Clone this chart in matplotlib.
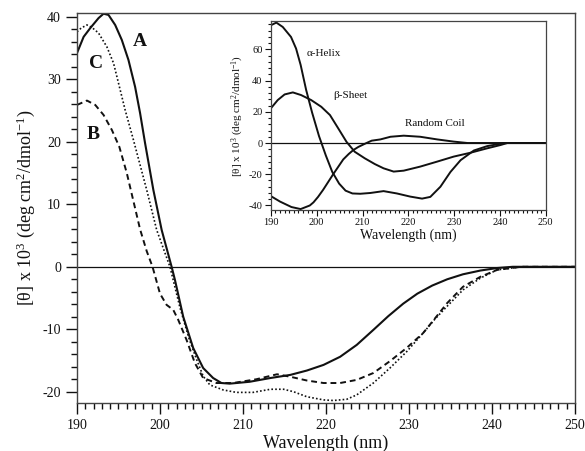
import matplotlib.pyplot as plt
from matplotlib.ticker import MultipleLocator

plt.rcParams['font.family'] = ['Liberation Serif', 'DejaVu Serif']
plt.rcParams['mathtext.fontset'] = 'custom'
plt.rcParams['mathtext.rm'] = 'Liberation Serif'
plt.rcParams['mathtext.it'] = 'Liberation Serif:italic'
plt.rcParams['axes.unicode_minus'] = False

# main panel: curves A (solid), B (dashed), C (dotted)
a_nm = [190, 190.8, 191.6, 192.6, 193.2, 193.8, 194.6, 195.4, 196.2, 197, 197.6, 198.2, 199.2,
        200.2, 201.4, 201.8, 202.8, 204, 205.2, 206.4, 207.4, 208.4, 210.8, 213.3, 215.7,
        217.7, 219.7, 221.7, 223.7, 225.7, 227.5, 229.3, 231, 232.8, 234.6, 236.5, 238.6,
        240.6, 242.5, 250]
a_val = [34.2, 36.8, 38.2, 39.8, 40.5, 40.3, 38.7, 36.3, 33.1, 28.8, 24.6, 19.8, 12.3,
         5.9, 0.0, -2.1, -8.0, -13.0, -16.2, -17.8, -18.6, -18.7, -18.4, -17.8, -17.3,
         -16.6, -15.7, -14.4, -12.5, -10.1, -7.9, -5.9, -4.3, -3.0, -2.0, -1.2, -0.6,
         -0.2, 0.0, 0.0]

b_nm = [190, 191.2, 192.2, 193.2, 194.2, 195.1, 196, 196.8, 197.6, 198.4, 199.1, 200, 200.8,
        201.6, 202.2, 203.2, 204.2, 205.2, 206.8, 208.8, 211.6, 214.1, 215.7, 217.7, 219.7,
        221.7, 223.7, 225.7, 227.7, 229.7, 231.7, 233.1, 234.6, 236.5, 238.6, 240.6, 243.5, 250]
b_val = [25.9, 26.6, 25.9, 24.3, 21.9, 19.2, 15.0, 10.5, 6.0, 2.5, 0.0, -4.3, -6.1,
         -6.9, -8.5, -11.7, -15.4, -17.8, -18.6, -18.6, -18.0, -17.2, -17.6, -18.2, -18.6,
         -18.6, -18.1, -17.0, -15.1, -13.0, -10.6, -8.3, -5.8, -3.2, -1.6, -0.5, 0.0, 0.0]

c_nm = [190, 190.5, 191.2, 191.8, 192.6, 193.6, 194.4, 195, 195.8, 196.8, 198.4, 199.6, 201.2,
        202.4, 203.5, 204.4, 205.2, 206, 207.6, 209.2, 211.2, 213.3, 214.9, 216.1, 217.7,
        219.7, 220.9, 222.5, 223.7, 225.7, 227.7, 229.7, 231.7, 233.1, 234.6, 236.5, 238.6,
        240.6, 243.5, 250]
c_val = [37.6, 38.2, 38.7, 38.3, 37.4, 35.2, 32.6, 29.4, 25.1, 20.3, 12.3, 5.9, 0.0,
         -6.5, -11.5, -14.8, -17.5, -18.9, -19.7, -20.1, -20.1, -19.6, -19.6, -20.0, -20.8,
         -21.3, -21.4, -21.2, -20.5, -18.6, -16.2, -13.6, -10.6, -8.4, -6.3, -3.7, -1.8,
         -0.5, 0.0, 0.0]

# inset: reference spectra
helix_nm = [190, 191.2, 192.6, 194.4, 195.5, 196.5, 197.7, 199, 200.5, 202, 203.4, 204.9,
            206.3, 207.8, 209.5, 211.7, 214.6, 217.5, 220.4, 223, 224.8, 227, 229.2, 231.4,
            234.3, 237.2, 240.9, 250]
helix_val = [75.4, 77.1, 74.3, 67.9, 60.5, 50, 34, 19.5, 4.5, -8, -18.5, -26,
             -30.5, -32.3, -32.5, -32, -30.8, -32.3, -34.3, -35.6, -34.5, -28, -18.5, -11,
             -4.8, -2, 0, 0]

sheet_nm = [190, 191.5, 193, 194.8, 196.6, 198.8, 201, 202.9, 204.7, 206.5, 208.3, 210.5,
            212.7, 214.6, 216.8, 219, 222.6, 226.3, 229.9, 233.6, 237.2, 240.1, 241.6, 250]
sheet_val = [22.2, 27.5, 31.1, 32.4, 30.7, 27.5, 23.2, 17.9, 9.4, 0.8, -5.6, -9.8,
             -13.5, -16.2, -18.3, -17.7, -15.1, -11.9, -8.7, -6.2, -3.4, -1.3, 0, 0]

coil_nm = [190, 192, 194.5, 196.5, 198.5, 199.3, 200.3, 201.4, 203.6, 205.8, 207, 208,
           209.1, 210.5, 212, 213.9, 216.1, 219, 222.6, 226.3, 229.9, 232.9, 250]
coil_val = [-34, -37.5, -41, -42.3, -40, -38, -34.5, -30, -20, -10.5, -7, -4.5,
            -2.5, -0.5, 1.5, 2.3, 4.0, 4.7, 4.0, 2.3, 0.9, 0, 0]

ink = '#111111'
ylab = '[θ] x 10$^3$ (deg cm$^2$/dmol$^{-1}$)'

fig = plt.figure(figsize=(5.85, 4.51), dpi=100)
ax = fig.add_axes([0.1316, 0.1064, 0.8514, 0.8646])

ax.axhline(0, color=ink, lw=0.9)
ax.plot(a_nm, a_val, color=ink, lw=1.5)
ax.plot(b_nm, b_val, color=ink, lw=1.4, linestyle=(0, (3, 2)))
ax.plot(c_nm, c_val, color=ink, lw=1.2, linestyle=(0, (1, 1.3)))

ax.text(197.6, 36, 'A', fontsize=14, fontweight='bold', ha='center', va='center', color=ink)
ax.text(192.3, 32.6, 'C', fontsize=14, fontweight='bold', ha='center', va='center', color=ink)
ax.text(192.0, 21.1, 'B', fontsize=14, fontweight='bold', ha='center', va='center', color=ink)

ax.set_xlim(190, 250)
ax.set_ylim(-21.8, 40.6)
ax.xaxis.set_major_locator(MultipleLocator(10))
ax.xaxis.set_minor_locator(MultipleLocator(1))
ax.yaxis.set_major_locator(MultipleLocator(10))
ax.yaxis.set_minor_locator(MultipleLocator(2))
ax.tick_params(which='major', length=8, width=1, labelsize=10, colors=ink)
ax.tick_params(which='minor', length=4, width=1, colors=ink)
for s in ax.spines.values():
    s.set_color('#444444')
    s.set_linewidth(1)
ax.set_xlabel('Wavelength (nm)', fontsize=13, color=ink, labelpad=2)
ax.set_ylabel(ylab, fontsize=13, color=ink)
ax.yaxis.set_label_coords(-0.08, 0.5)

# inset
ins = fig.add_axes([0.463, 0.534, 0.470, 0.419])
ins.axhline(0, color=ink, lw=0.9)
ins.plot(helix_nm, helix_val, color=ink, lw=1.4)
ins.plot(sheet_nm, sheet_val, color=ink, lw=1.4)
ins.plot(coil_nm, coil_val, color=ink, lw=1.4)
ins.text(197.8, 57, 'α-Helix', fontsize=8, va='center', color=ink)
ins.text(203.6, 30.7, 'β-Sheet', fontsize=8, va='center', color=ink)
ins.text(219.2, 12.8, 'Random Coil', fontsize=8, va='center', color=ink)
ins.set_xlim(190, 250)
ins.set_ylim(-43, 78)
ins.xaxis.set_major_locator(MultipleLocator(10))
ins.xaxis.set_minor_locator(MultipleLocator(1))
ins.yaxis.set_major_locator(MultipleLocator(20))
ins.yaxis.set_minor_locator(MultipleLocator(4))
ins.tick_params(which='major', length=4, width=0.8, labelsize=7.5, colors=ink, pad=2)
ins.tick_params(which='minor', length=2, width=0.8, colors=ink)
for s in ins.spines.values():
    s.set_color('#444444')
    s.set_linewidth(0.9)
ins.set_xlabel('Wavelength (nm)', fontsize=10, color=ink, labelpad=1)
ins.set_ylabel(ylab, fontsize=8, color=ink, labelpad=2)

fig.savefig('out.png', dpi=100)
